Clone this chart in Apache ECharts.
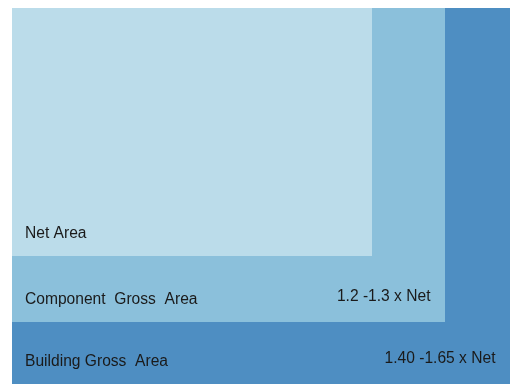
<!DOCTYPE html>
<html>
<head>
<meta charset="utf-8">
<script src="https://cdn.jsdelivr.net/npm/echarts@6/dist/echarts.min.js"></script>
<style>
	html, body { margin: 0; padding: 0; background: #fff; }
	#chart { width: 510px; height: 384px; }
</style>
</head>
<body>
<div id="chart"></div>
<script>
// nested areas, outer first (units = relative size)
var areaNames = ['Building Gross  Area', 'Component  Gross  Area', 'Net Area'];
var areaRatios = ['1.40 -1.65 x Net', '1.2 -1.3 x Net', ''];
var areaWidths = [498, 433, 360];
var areaHeights = [376, 314, 248];
var areaColors = ['#4e8ec2', '#8bc0db', '#bbdcea'];

var chart = echarts.init(document.getElementById('chart'));

var seriesData = [];
for (var i = 0; i < areaNames.length; i++) {
	seriesData.push([areaWidths[i], areaHeights[i]]);
}

var labelFont = '15.6px "Liberation Sans", Arial, sans-serif';

function renderArea(params, api) {
	var i = params.dataIndex;
	var p0 = api.coord([0, 0]);
	var p1 = api.coord([api.value(0), api.value(1)]);
	var x = p0[0], y = p0[1];
	var w = p1[0] - p0[0], h = p1[1] - p0[1];
	var children = [{
		type: 'rect',
		shape: { x: x, y: y, width: w, height: h },
		style: { fill: areaColors[i] }
	}, {
		type: 'text',
		style: {
			x: x + 13, y: y + h - 22.5,
			text: areaNames[i],
			fill: '#1a1a1a',
			font: labelFont,
			textAlign: 'left', textVerticalAlign: 'middle'
		}
	}];
	if (areaRatios[i]) {
		children.push({
			type: 'text',
			style: {
				x: x + w - 14.5, y: y + h - 25.5,
				text: areaRatios[i],
				fill: '#1a1a1a',
				font: labelFont,
				textAlign: 'right', textVerticalAlign: 'middle'
			}
		});
	}
	return { type: 'group', children: children };
}

var option = {
	animation: false,
	grid: { left: 12, top: 8, right: 0, bottom: 0 },
	xAxis: { type: 'value', min: 0, max: 498, show: false },
	yAxis: { type: 'value', min: 0, max: 376, inverse: true, show: false },
	series: [{
		type: 'custom',
		renderItem: renderArea,
		data: seriesData,
		silent: true
	}]
};
chart.setOption(option);
</script>
</body>
</html>
